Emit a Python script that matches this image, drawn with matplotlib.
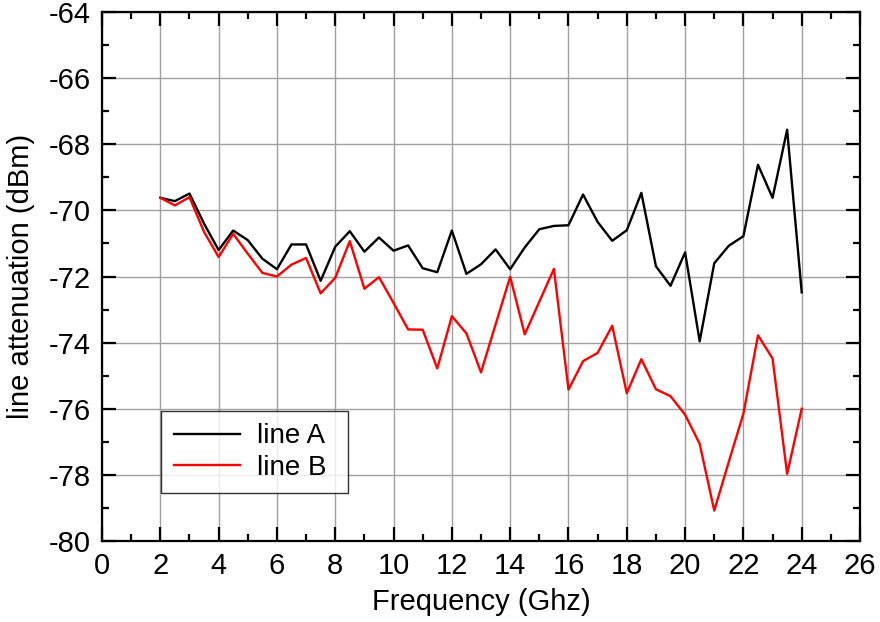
import matplotlib
matplotlib.use("Agg")
import matplotlib.pyplot as plt
from matplotlib.ticker import MultipleLocator

plt.rcParams['font.family'] = ['Liberation Sans', 'DejaVu Sans']
plt.rcParams['axes.unicode_minus'] = False

freq = [2, 2.5, 3, 3.5, 4, 4.5, 5, 5.5, 6, 6.5, 7, 7.5, 8, 8.5, 9, 9.5, 10,
        10.5, 11, 11.5, 12, 12.5, 13, 13.5, 14, 14.5, 15, 15.5, 16, 16.5, 17,
        17.5, 18, 18.5, 19, 19.5, 20, 20.5, 21, 21.5, 22, 22.5, 23, 23.5, 24]

line_a = [-69.62, -69.72, -69.49, -70.4, -71.2, -70.61, -70.9, -71.46, -71.78,
          -71.03, -71.03, -72.13, -71.1, -70.63, -71.25, -70.82, -71.22,
          -71.06, -71.75, -71.87, -70.61, -71.92, -71.63, -71.18, -71.78,
          -71.12, -70.57, -70.47, -70.45, -69.52, -70.35, -70.92, -70.6,
          -69.47, -71.69, -72.28, -71.27, -73.96, -71.6, -71.07, -70.78,
          -68.62, -69.62, -67.56, -72.48]

line_b = [-69.62, -69.85, -69.6, -70.65, -71.41, -70.71, -71.31, -71.89, -72.0,
          -71.64, -71.44, -72.51, -72.04, -70.93, -72.37, -72.02, -72.8,
          -73.6, -73.61, -74.78, -73.2, -73.72, -74.9, -73.45, -72.01,
          -73.75, -72.76, -71.77, -75.42, -74.56, -74.31, -73.49, -75.53,
          -74.5, -75.41, -75.62, -76.18, -77.06, -79.08, -77.6, -76.15,
          -73.78, -74.48, -77.97, -76.0]

fig = plt.figure(figsize=(8.8, 6.22), dpi=100)
ax = fig.add_axes([0.1159, 0.1302, 0.8614, 0.8505])

ax.plot(freq, line_a, color='black', lw=1.7, label='line A')
ax.plot(freq, line_b, color='red', lw=1.7, label='line B')

ax.set_xlim(0, 26)
ax.set_ylim(-80, -64)
ax.xaxis.set_major_locator(MultipleLocator(2))
ax.xaxis.set_minor_locator(MultipleLocator(1))
ax.yaxis.set_major_locator(MultipleLocator(2))
ax.yaxis.set_minor_locator(MultipleLocator(1))

ax.grid(True, which='major', color='#a0a0a0', lw=1.0)
ax.tick_params(which='both', direction='in', top=True, right=True,
               labelsize=21, width=1.6)
ax.tick_params(which='major', length=10, pad=8)
ax.tick_params(which='minor', length=5)
for s in ax.spines.values():
    s.set_linewidth(1.6)

ax.set_xlabel('Frequency (Ghz)', fontsize=21, labelpad=6)
ax.set_ylabel('line attenuation (dBm)', fontsize=21, labelpad=10)

leg = ax.legend(loc='lower left', bbox_to_anchor=(0.078, 0.09, 0.246, 0.158),
                mode='expand', fontsize=20, frameon=True, fancybox=False,
                handlelength=2.4, handletextpad=0.6, borderpad=0.45,
                labelspacing=0.2, borderaxespad=0)
leg.get_frame().set_edgecolor('black')
leg.get_frame().set_linewidth(1.0)

fig.savefig('out.png', dpi=100)
